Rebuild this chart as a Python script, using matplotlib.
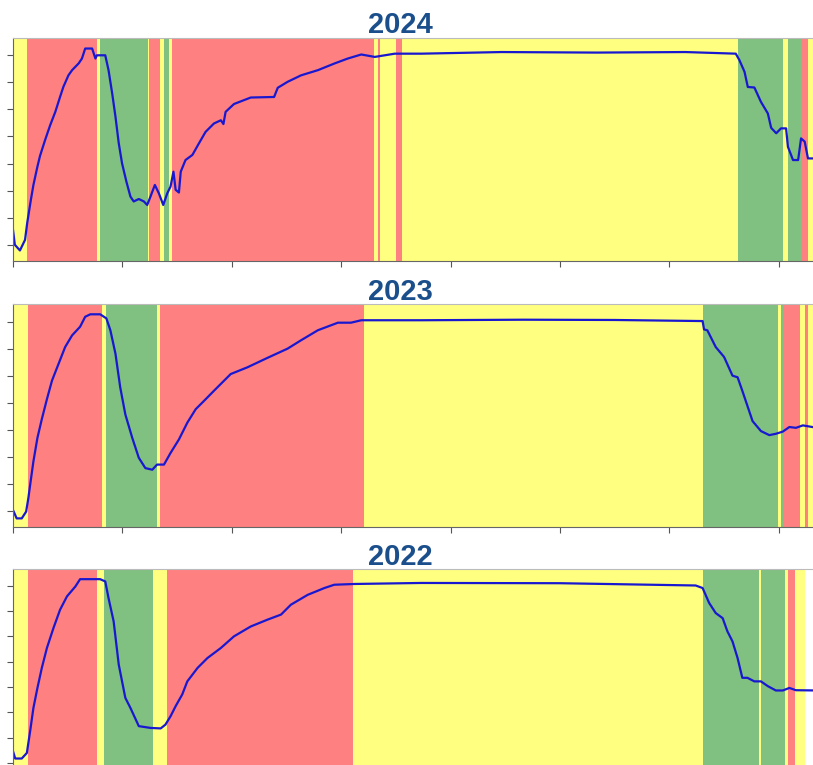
import matplotlib
matplotlib.use("Agg")
import matplotlib.pyplot as plt

# band zones per season: edges (days) and zone code between consecutive edges
edges_2024 = [0, 3.9, 23.1, 23.9, 36.9, 37.4, 40.2, 41.3, 42.7, 43.5, 99.1, 100.2, 100.7,
              105.1, 106.8, 198.7, 211.1, 212.5, 216.3, 218.0, 219.4, 225]
zones_2024 = ["Y", "R", "Y", "G", "Y", "R", "Y", "G", "Y", "R", "Y", "R",
              "Y", "R", "Y", "G", "Y", "G", "R", "Y", "G"]

edges_2023 = [0, 4.1, 24.5, 25.6, 39.6, 40.2, 96.3, 189.3, 209.7, 210.5, 211.4,
              215.8, 217.1, 218.0, 225]
zones_2023 = ["Y", "R", "Y", "G", "Y", "R", "Y", "G", "Y", "G", "R", "Y", "R", "Y"]

edges_2022 = [0, 4.1, 23.1, 25.0, 38.5, 42.1, 93.3, 189.3, 204.7, 205.2, 211.6,
              212.5, 214.4, 217.1]
zones_2022 = ["Y", "R", "Y", "G", "Y", "R", "Y", "G", "Y", "G", "Y", "R", "Y"]

# blue line per season
x_2024 = [0, 0.5, 1.9, 3.3, 3.9, 4.9, 5.6, 6.7, 7.4, 8.8, 10.2, 11.6, 12.9, 13.8, 15.2,
          16.2, 18.0, 18.9, 19.8, 21.7, 22.6, 23.0, 25.3, 26.2, 27.2, 28.1, 29.0, 29.9,
          31.1, 32.2, 33.1, 34.5, 35.9, 36.8, 37.7, 38.9, 40.0, 41.2, 42.3, 43.2, 44.0,
          44.6, 45.5, 46.0, 47.3, 49.2, 51.0, 52.8, 55.1, 57.0, 57.7, 58.3, 60.6, 65.2,
          71.6, 72.6, 75.3, 79.0, 83.6, 88.2, 91.8, 95.5, 99.2, 104.7, 112.0, 134.0,
          160.0, 184.4, 198.2, 199.2, 200.6, 201.5, 203.3, 205.1, 207.0, 207.9, 209.3,
          210.6, 212.0, 212.5, 213.9, 215.3, 216.1, 217.1, 218.0, 220.5]
y_2024 = [5.5, 0.0, -2.1, 1.8, 8.1, 16.6, 22.1, 28.9, 32.8, 38.7, 44.2, 49.1, 54.6, 58.3,
          62.6, 64.5, 67.0, 68.8, 72.5, 72.5, 68.8, 70.0, 70.0, 64.5, 55.9, 47.3, 37.5,
          30.1, 23.3, 17.8, 16.0, 16.9, 16.0, 14.7, 17.8, 22.1, 19.0, 14.7, 19.0, 21.5,
          27.0, 20.3, 19.3, 27.0, 31.3, 33.2, 37.5, 41.7, 44.8, 46.0, 44.6, 49.1, 52.0,
          54.4, 54.6, 58.0, 60.2, 62.6, 64.5, 67.0, 68.8, 70.3, 69.4, 70.6, 70.6, 71.2,
          71.0, 71.2, 70.6, 68.2, 63.9, 58.3, 58.1, 52.8, 48.5, 43.2, 41.2, 43.0, 43.0,
          36.2, 31.3, 31.3, 39.3, 38.1, 31.9, 31.9]

x_2023 = [0, 1.0, 2.4, 3.6, 4.2, 4.9, 5.6, 6.7, 7.9, 9.3, 10.7, 12.5, 14.3, 16.2, 18.4,
          19.8, 21.2, 23.9, 25.6, 26.7, 28.1, 29.4, 30.8, 32.7, 34.5, 36.3, 38.2, 39.5,
          41.4, 43.2, 45.5, 47.8, 50.1, 52.4, 55.1, 59.7, 64.3, 69.8, 75.3, 79.0, 83.6,
          89.1, 92.7, 95.5, 112.0, 140.0, 165.0, 189.1, 189.5, 190.4, 192.7, 195.0,
          197.3, 198.7, 200.0, 201.4, 202.8, 205.1, 207.4, 209.2, 211.1, 212.9, 214.7,
          216.6, 220.5]
y_2023 = [0.4, -2.7, -2.7, -0.2, 4.7, 11.6, 18.4, 27.1, 34.0, 41.4, 48.3, 54.5, 60.7,
          65.0, 68.2, 71.9, 72.8, 72.8, 71.3, 66.9, 58.2, 45.8, 35.8, 27.1, 19.7, 15.9,
          15.3, 17.2, 17.2, 21.5, 26.5, 32.7, 37.7, 40.8, 44.5, 50.7, 53.2, 56.7, 60.1,
          63.2, 66.9, 69.7, 69.7, 70.6, 70.6, 70.8, 70.7, 70.3, 67.2, 66.9, 60.7, 57.0,
          50.1, 49.5, 44.5, 38.9, 33.3, 29.6, 28.1, 28.6, 29.4, 31.1, 30.8, 31.7, 30.8]

x_2022 = [0, 0.6, 2.4, 3.8, 4.7, 5.6, 6.7, 7.9, 9.3, 11.1, 12.9, 14.8, 17.1, 18.4, 23.9,
          25.3, 26.2, 27.6, 29.0, 30.8, 32.2, 34.5, 37.7, 40.5, 41.8, 43.2, 44.6, 46.4,
          47.8, 50.6, 53.3, 57.0, 60.6, 65.2, 69.8, 73.5, 76.2, 80.8, 85.4, 88.1, 93.7,
          112.0, 150.0, 187.2, 189.1, 190.9, 192.7, 194.6, 195.9, 197.3, 198.7, 200.0,
          201.4, 203.3, 205.1, 207.0, 209.2, 211.1, 212.9, 214.7, 220.5]
y_2022 = [4.6, 1.7, 1.7, 3.9, 12.5, 21.7, 29.6, 37.5, 45.4, 53.3, 60.5, 65.8, 69.7, 72.6,
          72.6, 71.7, 65.1, 55.9, 38.8, 25.7, 21.7, 14.5, 13.8, 13.6, 15.1, 18.4, 22.4,
          27.0, 32.2, 37.5, 41.4, 45.4, 50.0, 53.9, 56.6, 58.6, 62.5, 66.4, 69.1, 70.4,
          70.7, 71.1, 71.0, 70.1, 69.1, 63.2, 59.2, 57.2, 52.0, 48.0, 41.4, 33.6, 33.6,
          32.2, 32.2, 30.3, 28.6, 28.6, 29.6, 28.7, 28.6]

seasons = ["2024", "2023", "2022"]
zone_colors = {"Y": "#FFFF80", "R": "#FF8080", "G": "#80C080"}

W, H = 813, 765
fig = plt.figure(figsize=(W / 100, H / 100), dpi=100)

# (top px, bottom px, title baseline px)
panels = [(37.7, 261.0, 33.3), (304.3, 527.3, 300.0), (569.3, 778.0, 565.0)]
all_edges = [edges_2024, edges_2023, edges_2022]
all_zones = [zones_2024, zones_2023, zones_2022]
all_x = [x_2024, x_2023, x_2022]
all_y = [y_2024, y_2023, y_2022]

x_max = 222
px_per_day = 109.4 / 30

for i, name in enumerate(seasons):
    top, bot, base = panels[i]
    ax = fig.add_axes([13 / W, 1 - bot / H, x_max * px_per_day / W, (bot - top) / H])
    ed = all_edges[i]
    for j, z in enumerate(all_zones[i]):
        ax.axvspan(ed[j], ed[j + 1], color=zone_colors[z], lw=0)
    ax.plot(all_x[i], all_y[i], color="#1818D0", lw=1.6)
    ax.set_xlim(0, x_max)
    ax.set_ylim(-6, 76.5)
    ax.set_xticks(range(0, 221, 30))
    ax.set_yticks(range(0, 71, 10))
    ax.set_xticklabels([])
    ax.set_yticklabels([])
    ax.tick_params(length=4, width=0.8, color="#555555")
    for s in ["left", "bottom"]:
        ax.spines[s].set_color("#666666")
    for s in ["top", "right"]:
        ax.spines[s].set_color("#BBBBBB")
    fig.text(400 / W, 1 - base / H, name, ha="center", va="baseline",
             fontsize=21, fontweight="bold", color="#1B4F8C",
             family=["Liberation Sans", "DejaVu Sans"])

fig.savefig("out.png", dpi=100)
